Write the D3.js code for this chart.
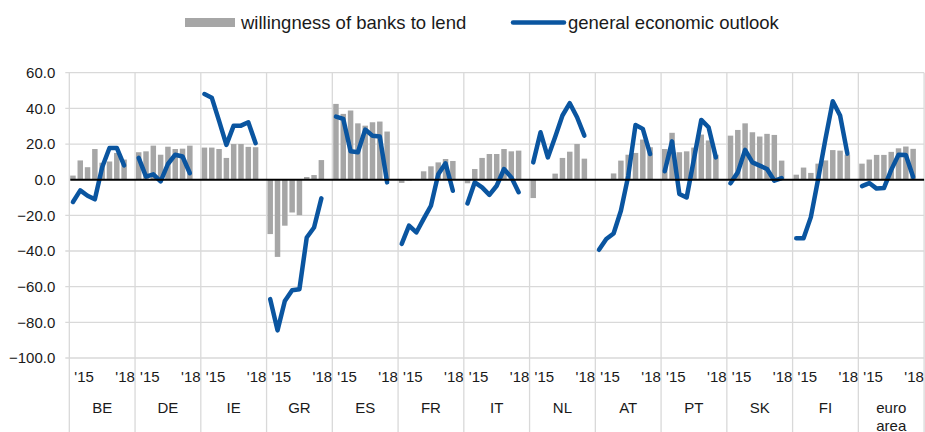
<!DOCTYPE html>
<meta charset="utf-8">

<body>
  <svg id="grafico"></svg>
</body>

<style>
body {
  margin: 0;
  background: #fff;
}

svg text {
  font-family: "Liberation Sans", Arial, sans-serif;
  fill: #1a1a1a;
}

.grade line {
  stroke: #d9d9d9;
  stroke-width: 1.3;
}

.barras rect {
  fill: #a6a6a6;
}

.linhas path {
  fill: none;
  stroke: #0a55a0;
  stroke-width: 4.5;
  stroke-linejoin: round;
  stroke-linecap: round;
}
</style>

<script src="https://d3js.org/d3.v7.min.js"></script>
<script>

// dados
var countries = ["BE", "DE", "IE", "GR", "ES", "FR", "IT", "NL", "AT", "PT", "SK", "FI", "euro area"];
var periods = ["2015H1", "2015H2", "2016H1", "2016H2", "2017H1", "2017H2", "2018H1", "2018H2"];
var yearTicks = ["'15", "'18"];
var yTicks = [-100, -80, -60, -40, -20, 0, 20, 40, 60];

var lending = [
  [2.3, 10.8, 7, 17.2, 9.5, 10.2, 15, 11.3],
  [15.4, 15.9, 19.1, 14, 18.5, 17.2, 17.4, 19.1],
  [18, 18, 17.2, 12.2, 20, 20, 18.4, 18.2],
  [-30.5, -43.3, -25.8, -18.4, -19.9, 1.5, 2.6, 11],
  [42.5, 36.9, 38.8, 31.6, 30.3, 32.2, 32.6, 27],
  [-1.8, -0.5, 0, 4.7, 7.5, 9.7, 11.6, 10.5],
  [-2, 6, 12.2, 14.4, 14.4, 17.2, 15.9, 16.3],
  [-10.3, 0, 0, 3.4, 12.2, 15.7, 20, 11.8],
  [0, 0, 3.5, 10.7, 14, 15, 22.5, 18.2],
  [17.2, 26.3, 15.4, 15.9, 18, 25.3, 22, 14],
  [24.7, 27.9, 31.6, 26.6, 24.2, 25.7, 25.1, 10.7],
  [2.8, 6.8, 3.8, 9, 10.8, 16.6, 16.3, 14],
  [9, 11.3, 13.9, 13.9, 15.6, 17.6, 18.6, 17.3]
];

var outlook = [
  [-12.5, -6, -9, -11, 7, 17.8, 17.8, 8],
  [12.2, 1.7, 3, -1, 8.8, 14, 13, 3.6],
  [48, 46, 33, 19.5, 30.3, 30.3, 32.2, 20.5],
  [-67, -84.5, -68, -62, -61.4, -32.4, -26.8, -10.5],
  [35.4, 34.1, 15.9, 15.4, 28.1, 24.7, 24.2, -1.5],
  [-36, -25.8, -29.6, -22, -14.6, 3, 9.2, -6.2],
  [-13.3, -1.5, -4.3, -8.5, -3.4, 6, 1.3, -7],
  [9.7, 26.6, 12.5, 24, 36, 42.9, 35, 24.7],
  [-39.3, -33.3, -30.2, -17.4, 2, 30.7, 28.5, 14.4],
  [4.7, 21.5, -8, -10, 11.6, 33.5, 29.4, 12.5],
  [-2, 4.1, 16.7, 9.7, 7.9, 6, -0.6, 0.9],
  [-32.8, -32.8, -21, 0.4, 22.9, 44, 36, 14.6],
  [-3.6, -1.9, -5, -4.7, 5.5, 14, 13.8, 1.5]
];

var svg = d3.select("#grafico")
    .attr("width", 925)
    .attr("height", 432);

var plotLeft = 69.3, plotRight = 924.1, plotTop = 72.7, plotBottom = 358;

// escalas
var x0 = d3.scaleBand().domain(countries).range([plotLeft, plotRight]);
var x1 = d3.scaleBand()
    .domain(periods.concat(["gap"]))
    .range([0, x0.bandwidth()])
    .paddingInner(0.25)
    .paddingOuter(0.125);
var y = d3.scaleLinear().domain([-100, 60]).range([plotBottom, plotTop]);

// grade
var grade = svg.append("g").attr("class", "grade");

grade.selectAll("line.h")
    .data(yTicks.filter(d => d !== 0))
    .enter()
    .append("line")
      .attr("class", "h")
      .attr("x1", plotLeft - 4)
      .attr("x2", plotRight)
      .attr("y1", d => y(d))
      .attr("y2", d => y(d));

grade.selectAll("line.v")
    .data(countries.concat(["fim"]))
    .enter()
    .append("line")
      .attr("class", "v")
      .attr("x1", (d, i) => i < countries.length ? x0(d) : plotRight)
      .attr("x2", (d, i) => i < countries.length ? x0(d) : plotRight)
      .attr("y1", plotTop)
      .attr("y2", 432);

// eixo y
var yAxis = svg.append("g")
    .attr("transform", "translate(" + (plotLeft - 14) + ",0)")
    .call(d3.axisLeft(y).tickValues(yTicks).tickFormat(d3.format(".1f")).tickSize(0).tickPadding(0));
yAxis.select(".domain").remove();
yAxis.selectAll("text")
    .attr("text-anchor", "end")
    .style("font-size", "15px")
    .style("font-family", "'Liberation Sans', Arial, sans-serif")
    .attr("fill", "#1a1a1a");

// barras
var grupos = svg.selectAll("g.pais")
    .data(countries)
    .enter()
    .append("g")
      .attr("class", "pais")
      .attr("transform", d => "translate(" + x0(d) + ",0)");

grupos.append("g")
    .attr("class", "barras")
  .selectAll("rect")
  .data((d, i) => lending[i].map((v, j) => ({p: periods[j], v: v})))
  .enter()
  .append("rect")
    .attr("x", d => x1(d.p))
    .attr("width", x1.bandwidth())
    .attr("y", d => y(Math.max(0, d.v)))
    .attr("height", d => Math.abs(y(d.v) - y(0)));

// linha do zero
svg.append("line")
    .attr("x1", plotLeft + 1)
    .attr("x2", plotRight)
    .attr("y1", y(0))
    .attr("y2", y(0))
    .attr("stroke", "#000")
    .attr("stroke-width", 2);

// linhas
var linha = d3.line()
    .x(d => x1(d.p) + x1.bandwidth() / 2)
    .y(d => y(d.v));

grupos.append("g")
    .attr("class", "linhas")
  .append("path")
    .attr("d", (d, i) => linha(outlook[i].map((v, j) => ({p: periods[j], v: v}))));

// rótulos do eixo x
grupos.append("text")
    .attr("x", 5)
    .attr("y", 382)
    .style("font-size", "15px")
    .text(yearTicks[0]);

grupos.append("text")
    .attr("x", x1(periods[7]) + x1.bandwidth() / 2 + 1)
    .attr("y", 382)
    .attr("text-anchor", "middle")
    .style("font-size", "15px")
    .text(yearTicks[1]);

grupos.append("text")
    .attr("x", x0.bandwidth() / 2)
    .attr("y", 412.5)
    .attr("text-anchor", "middle")
    .style("font-size", "15px")
  .selectAll("tspan")
  .data(d => d.split(" "))
  .enter()
  .append("tspan")
    .attr("x", x0.bandwidth() / 2)
    .attr("dy", (d, i) => i === 0 ? 0 : 18)
    .text(d => d);

// legenda
var legenda = svg.append("g");

legenda.append("rect")
    .attr("x", 185)
    .attr("y", 18)
    .attr("width", 50)
    .attr("height", 9)
    .attr("fill", "#a6a6a6");

legenda.append("text")
    .attr("x", 241)
    .attr("y", 29)
    .style("font-size", "18.5px")
    .text("willingness of banks to lend");

legenda.append("line")
    .attr("x1", 513)
    .attr("x2", 564)
    .attr("y1", 22.5)
    .attr("y2", 22.5)
    .attr("stroke", "#0a55a0")
    .attr("stroke-width", 4.5)
    .attr("stroke-linecap", "round");

legenda.append("text")
    .attr("x", 568)
    .attr("y", 29)
    .style("font-size", "18.5px")
    .text("general economic outlook");

</script>
